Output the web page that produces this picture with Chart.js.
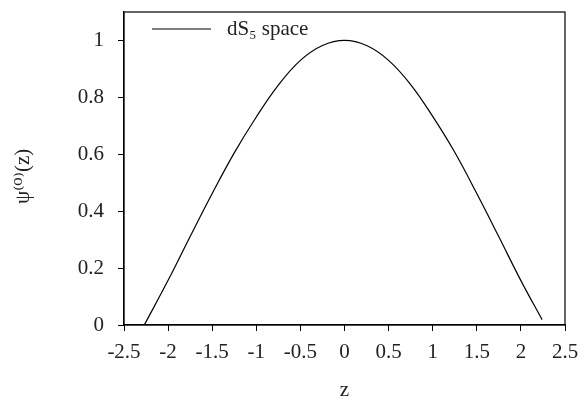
<!DOCTYPE html>
<html lang="en">
<head>
    <meta charset="UTF-8">
    <title>psi(0)(z) - dS5 space</title>
    <script src="https://cdn.jsdelivr.net/npm/chart.js"></script>
    <style>
        body {
            margin: 0;
            background: #ffffff;
        }

        .chart-box {
            width: 583px;
            height: 397px;
        }
    </style>
</head>
<body>
<div class="chart-box">
    <canvas id="psi-chart" width="583" height="397"></canvas>
</div>

<script>
    // values
    const zValues = [-2.27, -2.0, -1.75, -1.5, -1.25, -1.0, -0.75, -0.5, -0.25, 0,
        0.25, 0.5, 0.75, 1.0, 1.25, 1.5, 1.75, 2.0, 2.24];
    const psiValues = [0, 0.157, 0.311, 0.462, 0.605, 0.731, 0.843, 0.930, 0.982, 1.0,
        0.982, 0.930, 0.845, 0.733, 0.607, 0.462, 0.310, 0.156, 0.019];

    const xTickValues = [-2.5, -2, -1.5, -1, -0.5, 0, 0.5, 1, 1.5, 2, 2.5];
    const yTickValues = [0, 0.2, 0.4, 0.6, 0.8, 1];

    const seriesLabel = 'dS\u2085 space';
    const xTitle = 'z';
    const yTitle = '\u03C8\u207D\u2070\u207E(z)';

    const fontSpec = { family: "'Liberation Serif', 'DejaVu Serif', serif", size: 21 };
    const textColor = '#222';

    // box around the plot + legend in the upper left corner
    const framePlugin = {
        id: 'frameAndLegend',
        afterDraw(chart) {
            const { ctx, chartArea } = chart;
            const ds = chart.data.datasets[0];
            ctx.save();
            ctx.strokeStyle = '#000';
            ctx.lineWidth = 1.2;
            ctx.strokeRect(chartArea.left, chartArea.top, chartArea.right - chartArea.left, chartArea.bottom - chartArea.top);

            const ly = chartArea.top + 17;
            ctx.lineWidth = ds.borderWidth;
            ctx.beginPath();
            ctx.moveTo(chartArea.left + 28, ly);
            ctx.lineTo(chartArea.left + 87, ly);
            ctx.stroke();

            ctx.fillStyle = textColor;
            ctx.font = `${fontSpec.size}px ${fontSpec.family}`;
            ctx.textBaseline = 'middle';
            ctx.textAlign = 'left';
            ctx.fillText(ds.label, chartArea.left + 103, ly);
            ctx.restore();
        }
    };

    const ctx = document.getElementById('psi-chart').getContext('2d');

    new Chart(ctx, {
        type: 'line',
        data: {
            datasets: [{
                label: seriesLabel,
                data: zValues.map((z, i) => ({ x: z, y: psiValues[i] })),
                borderColor: '#000',
                borderWidth: 1.2,
                pointRadius: 0,
                fill: false,
                tension: 0.4
            }]
        },
        options: {
            responsive: false,
            animation: false,
            devicePixelRatio: 1,
            layout: { padding: { top: 12, right: 18, left: 0, bottom: 0 } },
            plugins: {
                legend: { display: false },
                tooltip: { enabled: false }
            },
            scales: {
                x: {
                    type: 'linear',
                    min: -2.5,
                    max: 2.5,
                    afterBuildTicks: (s) => { s.ticks = xTickValues.map(v => ({ value: v })); },
                    afterFit: (s) => { s.height = 72; s.paddingLeft = 0; s.paddingRight = 0; },
                    ticks: {
                        callback: (v) => String(v),
                        color: textColor,
                        font: fontSpec,
                        padding: 9,
                        maxRotation: 0,
                        autoSkip: false
                    },
                    grid: { drawOnChartArea: false, drawTicks: true, tickLength: 6, color: '#000', lineWidth: 1 },
                    border: { display: true, color: '#000', width: 1.2 },
                    title: { display: true, text: xTitle, color: textColor, font: fontSpec, padding: { top: 0, bottom: -6 } }
                },
                y: {
                    type: 'linear',
                    min: 0,
                    max: 1.1,
                    afterBuildTicks: (s) => { s.ticks = yTickValues.map(v => ({ value: v })); },
                    afterFit: (s) => { s.width = 124; s.paddingTop = 0; s.paddingBottom = 0; },
                    ticks: {
                        callback: (v) => String(v),
                        color: textColor,
                        font: fontSpec,
                        padding: 14,
                        autoSkip: false
                    },
                    grid: { drawOnChartArea: false, drawTicks: true, tickLength: 6, color: '#000', lineWidth: 1 },
                    border: { display: true, color: '#000', width: 1.2 },
                    title: { display: true, text: yTitle + '   ', color: textColor, font: fontSpec, padding: { top: 11, bottom: 0 } }
                }
            }
        },
        plugins: [framePlugin]
    });
</script>
</body>
</html>
